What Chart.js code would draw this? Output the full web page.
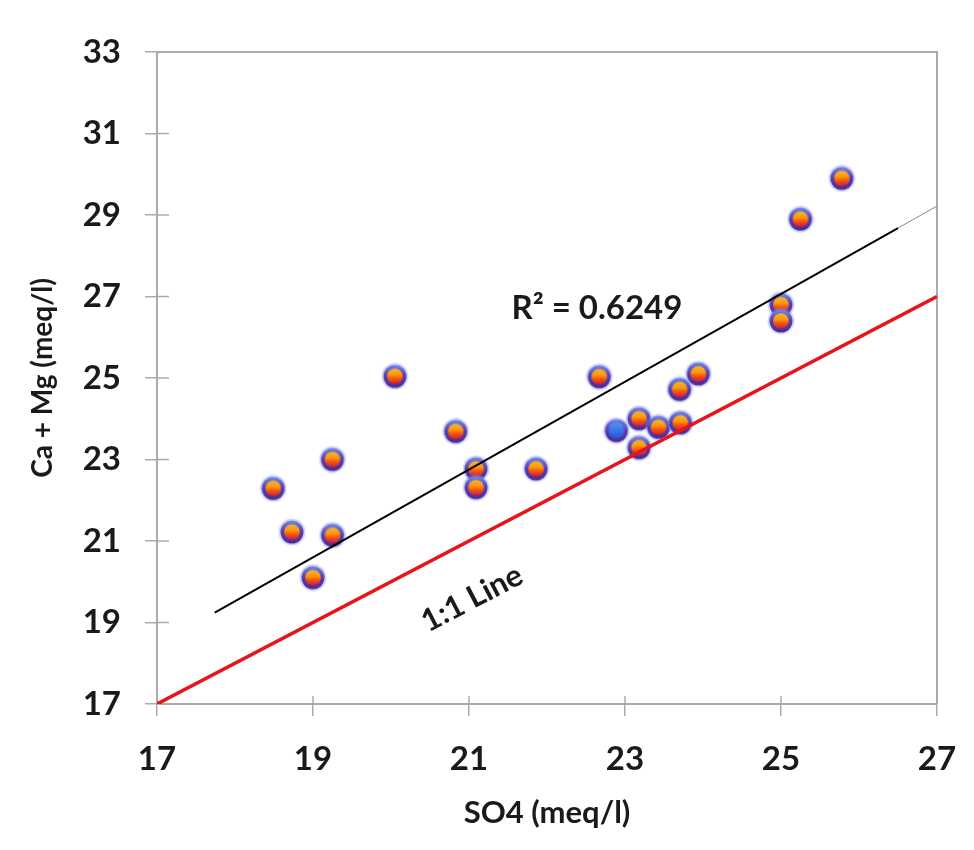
<!DOCTYPE html>
<html>
<head>
<meta charset="utf-8">
<script src="https://cdn.jsdelivr.net/npm/chart.js@4.4.1/dist/chart.umd.min.js"></script>
<style>
  html, body { margin: 0; padding: 0; background: #fff; }
  #wrap { width: 974px; height: 850px; position: relative; }
</style>
</head>
<body>
<div id="wrap"><canvas id="ionChart" width="974" height="850"></canvas></div>
<script>
// SO4 vs Ca+Mg samples (meq/l)
const so4  = [18.49, 18.73, 19.00, 19.25, 19.25, 20.05, 20.83, 21.09, 21.09, 21.86, 22.67,
              22.89, 23.18, 23.18, 23.43, 23.71, 23.70, 23.94, 25.00, 25.00, 25.25, 25.78];
const caMg = [22.29, 21.22, 20.10, 23.00, 21.14, 25.04, 23.69, 22.77, 22.31, 22.77, 25.03,
              23.71, 24.00, 23.29, 23.79, 23.90, 24.72, 25.10, 26.80, 26.40, 28.90, 29.90];
const blueIndex = 11;

// fitted trend line (R² = 0.6249) and the 1:1 reference line
const trendX = [17.74, 26.5];
const trendY = [19.24, 28.68];
const trendTailX = [26.5, 27];
const trendTailY = [28.68, 29.22];
const oneToOneX = [17, 27];
const oneToOneY = [17, 27];

const xTicks = [17, 19, 21, 23, 25, 27];
const yTicks = [17, 19, 21, 23, 25, 27, 29, 31, 33];

const FONT = 'Lato, "Open Sans", sans-serif';
const AXIS_GREY = '#ababab';

function makeMarker(blue) {
    const c = document.createElement('canvas');
    c.width = 28; c.height = 28;
    const g = c.getContext('2d');
    // soft glow
    g.beginPath(); g.arc(14, 14, 13.5, 0, Math.PI * 2);
    g.fillStyle = 'rgba(130,140,235,0.35)'; g.fill();
    // purple rim
    const rim = g.createLinearGradient(0, 3, 0, 25);
    rim.addColorStop(0, '#6f86e6');
    rim.addColorStop(0.5, '#5a3cae');
    rim.addColorStop(1, '#4a2c98');
    g.beginPath(); g.arc(14, 14, 11.5, 0, Math.PI * 2);
    g.fillStyle = rim; g.fill();
    // core
    const core = g.createLinearGradient(0, 6.5, 0, 21.5);
    if (blue) {
        core.addColorStop(0, '#4a95f7');
        core.addColorStop(1, '#2a55d8');
    } else {
        core.addColorStop(0, '#f7b23a');
        core.addColorStop(0.4, '#ff9800');
        core.addColorStop(0.62, '#f45a14');
        core.addColorStop(1, '#d41c30');
    }
    g.beginPath(); g.arc(14, 14, 7.8, 0, Math.PI * 2);
    g.fillStyle = core; g.fill();
    return c;
}
const orangeDot = makeMarker(false);
const blueDot = makeMarker(true);

function pts(xs, ys) {
    return xs.map((x, i) => ({ x: x, y: ys[i] }));
}

// box outline, ticks crossing the axes, and the two text notes
const decorations = {
    id: 'decorations',
    beforeDatasetsDraw(chart) {
        const { ctx, chartArea: a } = chart;
        ctx.save();
        ctx.strokeStyle = AXIS_GREY;
        ctx.lineWidth = 2;
        ctx.beginPath();
        ctx.moveTo(a.left, a.top); ctx.lineTo(a.right, a.top); ctx.lineTo(a.right, a.bottom);
        ctx.stroke();
        ctx.lineWidth = 1.5;
        const xs = chart.scales.x, ys = chart.scales.y;
        xs.ticks.forEach((t, i) => {
            const p = xs.getPixelForTick(i);
            ctx.beginPath(); ctx.moveTo(p, a.bottom); ctx.lineTo(p, a.bottom - 8); ctx.stroke();
        });
        ys.ticks.forEach((t, i) => {
            const p = ys.getPixelForTick(i);
            ctx.beginPath(); ctx.moveTo(a.left, p); ctx.lineTo(a.left + 12, p); ctx.stroke();
        });
        ctx.restore();
    },
    afterDatasetsDraw(chart) {
        const { ctx } = chart;
        const xs = chart.scales.x, ys = chart.scales.y;
        ctx.save();
        ctx.fillStyle = '#1a1a1a';
        ctx.textAlign = 'center';
        ctx.textBaseline = 'middle';
        ctx.font = 'bold 33px ' + FONT;
        ctx.fillText('R² = 0.6249', xs.getPixelForValue(22.64), ys.getPixelForValue(26.71));
        const px = xs.getPixelForValue(21.04), py = ys.getPixelForValue(19.59);
        const ang = Math.atan2(ys.getPixelForValue(27) - ys.getPixelForValue(17),
                               xs.getPixelForValue(27) - xs.getPixelForValue(17));
        ctx.translate(px, py);
        ctx.rotate(ang);
        ctx.font = 'bold 31px ' + FONT;
        ctx.fillText('1:1 Line', 0, 0);
        ctx.restore();
    }
};

new Chart(document.getElementById('ionChart').getContext('2d'), {
    type: 'scatter',
    data: {
        datasets: [
            {
                label: 'Samples',
                data: pts(so4, caMg),
                pointStyle: (c) => c.dataIndex === blueIndex ? blueDot : orangeDot,
                pointRadius: 13,
                order: 3
            },
            {
                type: 'line',
                label: 'Trend',
                data: pts(trendX, trendY),
                borderColor: '#000',
                borderWidth: 2,
                pointRadius: 0,
                order: 2
            },
            {
                type: 'line',
                label: 'Trend tail',
                data: pts(trendTailX, trendTailY),
                borderColor: '#888',
                borderWidth: 1,
                pointRadius: 0,
                order: 2
            },
            {
                type: 'line',
                label: '1:1 Line',
                data: pts(oneToOneX, oneToOneY),
                borderColor: '#e8141c',
                borderWidth: 3.5,
                pointRadius: 0,
                order: 1
            }
        ]
    },
    options: {
        responsive: false,
        animation: false,
        layout: { padding: { top: 52, right: 37, bottom: 14, left: 0 } },
        plugins: {
            legend: { display: false },
            tooltip: { enabled: false }
        },
        scales: {
            x: {
                type: 'linear',
                min: 17, max: 27,
                afterBuildTicks: (s) => { s.ticks = xTicks.map(v => ({ value: v })); },
                afterFit: (s) => { s.height = 132; s.paddingLeft = 0; s.paddingRight = 0; },
                border: { color: AXIS_GREY, width: 2 },
                grid: { drawOnChartArea: false, color: AXIS_GREY, lineWidth: 1.5, tickLength: 12 },
                ticks: { color: '#1a1a1a', font: { family: FONT, size: 33, weight: 'bold' }, padding: 24 },
                title: {
                    display: true, text: 'SO4 (meq/l)', color: '#1a1a1a',
                    font: { family: FONT, size: 31, weight: 'bold' },
                    padding: { top: 4 }
                }
            },
            y: {
                type: 'linear',
                min: 17, max: 33,
                afterBuildTicks: (s) => { s.ticks = yTicks.map(v => ({ value: v })); },
                afterFit: (s) => { s.width = 157; },
                border: { color: AXIS_GREY, width: 2 },
                grid: { drawOnChartArea: false, color: AXIS_GREY, lineWidth: 1.5, tickLength: 12 },
                ticks: { color: '#1a1a1a', font: { family: FONT, size: 33, weight: 'bold' }, padding: 24 },
                title: {
                    display: true, text: 'Ca + Mg (meq/l)', color: '#1a1a1a',
                    font: { family: FONT, size: 28, weight: 'bold' },
                    padding: { top: 26, bottom: 0 }
                }
            }
        }
    },
    plugins: [decorations]
});
</script>
</body>
</html>
